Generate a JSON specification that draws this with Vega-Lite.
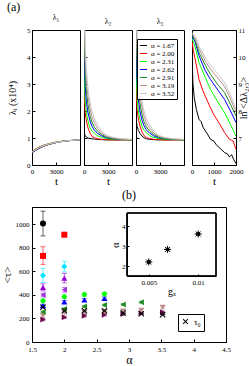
{
 "$schema": "https://vega.github.io/schema/vega-lite/v6.json",
 "padding": {"left": 0, "top": 0, "right": 0, "bottom": 0},
 "config": {
  "font": "Liberation Serif",
  "view": {"stroke": "black", "strokeWidth": 1},
  "title": {"font": "Liberation Serif", "fontWeight": "normal", "fontSize": 12, "color": "black"},
  "axis": {"labelFont": "Liberation Serif", "titleFont": "Liberation Serif", "labelFontSize": 7, "titleFontSize": 11, "titleFontWeight": "normal", "tickSize": -3, "labelPadding": 5, "labelFlush": false, "labelOverlap": false, "domainColor": "black", "tickColor": "black", "labelColor": "black", "titleColor": "black", "grid": false, "titlePadding": 2},
  "legend": {"labelFont": "Liberation Serif", "labelColor": "black"}
 },
 "datasets": {
  "l1": [
   {"a":1.67,"t":0,"v":0.45},{"a":1.67,"t":500,"v":0.55},{"a":1.67,"t":1000,"v":0.63},{"a":1.67,"t":1500,"v":0.70},{"a":1.67,"t":2000,"v":0.75},{"a":1.67,"t":2500,"v":0.79},{"a":1.67,"t":3000,"v":0.83},{"a":1.67,"t":3500,"v":0.86},{"a":1.67,"t":4000,"v":0.88},{"a":1.67,"t":4500,"v":0.90},{"a":1.67,"t":5000,"v":0.91},{"a":1.67,"t":5500,"v":0.92},{"a":1.67,"t":6000,"v":0.93},
   {"a":2,"t":0,"v":0.50},{"a":2,"t":500,"v":0.60},{"a":2,"t":1000,"v":0.68},{"a":2,"t":1500,"v":0.74},{"a":2,"t":2000,"v":0.78},{"a":2,"t":2500,"v":0.82},{"a":2,"t":3000,"v":0.85},{"a":2,"t":3500,"v":0.87},{"a":2,"t":4000,"v":0.89},{"a":2,"t":4500,"v":0.90},{"a":2,"t":5000,"v":0.91},{"a":2,"t":5500,"v":0.92},{"a":2,"t":6000,"v":0.93},
   {"a":2.31,"t":0,"v":0.48},{"a":2.31,"t":500,"v":0.58},{"a":2.31,"t":1000,"v":0.66},{"a":2.31,"t":1500,"v":0.72},{"a":2.31,"t":2000,"v":0.77},{"a":2.31,"t":2500,"v":0.81},{"a":2.31,"t":3000,"v":0.84},{"a":2.31,"t":3500,"v":0.86},{"a":2.31,"t":4000,"v":0.88},{"a":2.31,"t":4500,"v":0.90},{"a":2.31,"t":5000,"v":0.91},{"a":2.31,"t":5500,"v":0.92},{"a":2.31,"t":6000,"v":0.93},
   {"a":2.62,"t":0,"v":0.46},{"a":2.62,"t":500,"v":0.56},{"a":2.62,"t":1000,"v":0.64},{"a":2.62,"t":1500,"v":0.71},{"a":2.62,"t":2000,"v":0.76},{"a":2.62,"t":2500,"v":0.80},{"a":2.62,"t":3000,"v":0.83},{"a":2.62,"t":3500,"v":0.86},{"a":2.62,"t":4000,"v":0.88},{"a":2.62,"t":4500,"v":0.90},{"a":2.62,"t":5000,"v":0.91},{"a":2.62,"t":5500,"v":0.92},{"a":2.62,"t":6000,"v":0.93},
   {"a":2.91,"t":0,"v":0.49},{"a":2.91,"t":500,"v":0.59},{"a":2.91,"t":1000,"v":0.67},{"a":2.91,"t":1500,"v":0.73},{"a":2.91,"t":2000,"v":0.77},{"a":2.91,"t":2500,"v":0.81},{"a":2.91,"t":3000,"v":0.84},{"a":2.91,"t":3500,"v":0.87},{"a":2.91,"t":4000,"v":0.89},{"a":2.91,"t":4500,"v":0.90},{"a":2.91,"t":5000,"v":0.91},{"a":2.91,"t":5500,"v":0.92},{"a":2.91,"t":6000,"v":0.93},
   {"a":3.19,"t":0,"v":0.47},{"a":3.19,"t":500,"v":0.57},{"a":3.19,"t":1000,"v":0.65},{"a":3.19,"t":1500,"v":0.71},{"a":3.19,"t":2000,"v":0.76},{"a":3.19,"t":2500,"v":0.80},{"a":3.19,"t":3000,"v":0.83},{"a":3.19,"t":3500,"v":0.86},{"a":3.19,"t":4000,"v":0.88},{"a":3.19,"t":4500,"v":0.90},{"a":3.19,"t":5000,"v":0.91},{"a":3.19,"t":5500,"v":0.92},{"a":3.19,"t":6000,"v":0.93},
   {"a":3.52,"t":0,"v":0.48},{"a":3.52,"t":500,"v":0.58},{"a":3.52,"t":1000,"v":0.66},{"a":3.52,"t":1500,"v":0.72},{"a":3.52,"t":2000,"v":0.77},{"a":3.52,"t":2500,"v":0.81},{"a":3.52,"t":3000,"v":0.84},{"a":3.52,"t":3500,"v":0.86},{"a":3.52,"t":4000,"v":0.88},{"a":3.52,"t":4500,"v":0.90},{"a":3.52,"t":5000,"v":0.91},{"a":3.52,"t":5500,"v":0.92},{"a":3.52,"t":6000,"v":0.94}
  ],
  "l2": [
   {"a":1.67,"t":0,"v":1.38},{"a":1.67,"t":50,"v":1.18},{"a":1.67,"t":150,"v":1.08},{"a":1.67,"t":300,"v":1.03},{"a":1.67,"t":500,"v":1.00},{"a":1.67,"t":750,"v":0.98},{"a":1.67,"t":1000,"v":0.97},{"a":1.67,"t":1300,"v":0.96},{"a":1.67,"t":1700,"v":0.95},{"a":1.67,"t":2200,"v":0.94},{"a":1.67,"t":2800,"v":0.93},{"a":1.67,"t":3500,"v":0.93},{"a":1.67,"t":4500,"v":0.93},{"a":1.67,"t":6000,"v":0.93},
   {"a":2,"t":0,"v":3.43},{"a":2,"t":50,"v":2.43},{"a":2,"t":150,"v":1.93},{"a":2,"t":300,"v":1.63},{"a":2,"t":500,"v":1.38},{"a":2,"t":750,"v":1.18},{"a":2,"t":1000,"v":1.06},{"a":2,"t":1300,"v":1.01},{"a":2,"t":1700,"v":0.97},{"a":2,"t":2200,"v":0.95},{"a":2,"t":2800,"v":0.94},{"a":2,"t":3500,"v":0.93},{"a":2,"t":4500,"v":0.93},{"a":2,"t":6000,"v":0.93},
   {"a":2.31,"t":0,"v":4.43},{"a":2.31,"t":50,"v":3.13},{"a":2.31,"t":150,"v":2.33},{"a":2.31,"t":300,"v":1.93},{"a":2.31,"t":500,"v":1.63},{"a":2.31,"t":750,"v":1.38},{"a":2.31,"t":1000,"v":1.26},{"a":2.31,"t":1300,"v":1.18},{"a":2.31,"t":1700,"v":1.08},{"a":2.31,"t":2200,"v":1.02},{"a":2.31,"t":2800,"v":0.98},{"a":2.31,"t":3500,"v":0.96},{"a":2.31,"t":4500,"v":0.94},{"a":2.31,"t":6000,"v":0.93},
   {"a":2.62,"t":0,"v":5.43},{"a":2.62,"t":50,"v":3.93},{"a":2.62,"t":150,"v":2.93},{"a":2.62,"t":300,"v":2.33},{"a":2.62,"t":500,"v":1.93},{"a":2.62,"t":750,"v":1.63},{"a":2.62,"t":1000,"v":1.43},{"a":2.62,"t":1300,"v":1.29},{"a":2.62,"t":1700,"v":1.17},{"a":2.62,"t":2200,"v":1.08},{"a":2.62,"t":2800,"v":1.01},{"a":2.62,"t":3500,"v":0.98},{"a":2.62,"t":4500,"v":0.95},{"a":2.62,"t":6000,"v":0.94},
   {"a":2.91,"t":0,"v":6.43},{"a":2.91,"t":50,"v":4.53},{"a":2.91,"t":150,"v":3.43},{"a":2.91,"t":300,"v":2.73},{"a":2.91,"t":500,"v":2.23},{"a":2.91,"t":750,"v":1.83},{"a":2.91,"t":1000,"v":1.58},{"a":2.91,"t":1300,"v":1.40},{"a":2.91,"t":1700,"v":1.25},{"a":2.91,"t":2200,"v":1.13},{"a":2.91,"t":2800,"v":1.03},{"a":2.91,"t":3500,"v":0.98},{"a":2.91,"t":4500,"v":0.95},{"a":2.91,"t":6000,"v":0.94},
   {"a":3.19,"t":0,"v":7.43},{"a":3.19,"t":50,"v":5.23},{"a":3.19,"t":150,"v":3.93},{"a":3.19,"t":300,"v":3.13},{"a":3.19,"t":500,"v":2.53},{"a":3.19,"t":750,"v":2.08},{"a":3.19,"t":1000,"v":1.78},{"a":3.19,"t":1300,"v":1.55},{"a":3.19,"t":1700,"v":1.36},{"a":3.19,"t":2200,"v":1.18},{"a":3.19,"t":2800,"v":1.07},{"a":3.19,"t":3500,"v":1.01},{"a":3.19,"t":4500,"v":0.96},{"a":3.19,"t":6000,"v":0.94},
   {"a":3.52,"t":0,"v":8.43},{"a":3.52,"t":50,"v":5.93},{"a":3.52,"t":150,"v":4.43},{"a":3.52,"t":300,"v":3.53},{"a":3.52,"t":500,"v":2.83},{"a":3.52,"t":750,"v":2.33},{"a":3.52,"t":1000,"v":1.98},{"a":3.52,"t":1300,"v":1.71},{"a":3.52,"t":1700,"v":1.48},{"a":3.52,"t":2200,"v":1.25},{"a":3.52,"t":2800,"v":1.10},{"a":3.52,"t":3500,"v":1.03},{"a":3.52,"t":4500,"v":0.98},{"a":3.52,"t":6000,"v":0.95}
  ],
  "l3": [
   {"a":1.67,"t":0,"v":6.90},{"a":1.67,"t":50,"v":1.60},{"a":1.67,"t":150,"v":1.42},{"a":1.67,"t":300,"v":1.28},{"a":1.67,"t":500,"v":1.17},{"a":1.67,"t":750,"v":1.07},{"a":1.67,"t":1000,"v":1.01},{"a":1.67,"t":1300,"v":0.97},{"a":1.67,"t":1700,"v":0.95},{"a":1.67,"t":2200,"v":0.94},{"a":1.67,"t":2800,"v":0.93},{"a":1.67,"t":3500,"v":0.93},{"a":1.67,"t":4500,"v":0.93},{"a":1.67,"t":6000,"v":0.93},
   {"a":2,"t":0,"v":3.60},{"a":2,"t":50,"v":2.55},{"a":2,"t":150,"v":2.02},{"a":2,"t":300,"v":1.70},{"a":2,"t":500,"v":1.44},{"a":2,"t":750,"v":1.22},{"a":2,"t":1000,"v":1.09},{"a":2,"t":1300,"v":1.02},{"a":2,"t":1700,"v":0.98},{"a":2,"t":2200,"v":0.95},{"a":2,"t":2800,"v":0.94},{"a":2,"t":3500,"v":0.93},{"a":2,"t":4500,"v":0.93},{"a":2,"t":6000,"v":0.93},
   {"a":2.31,"t":0,"v":4.60},{"a":2.31,"t":50,"v":3.25},{"a":2.31,"t":150,"v":2.42},{"a":2.31,"t":300,"v":2.00},{"a":2.31,"t":500,"v":1.68},{"a":2.31,"t":750,"v":1.42},{"a":2.31,"t":1000,"v":1.29},{"a":2.31,"t":1300,"v":1.19},{"a":2.31,"t":1700,"v":1.09},{"a":2.31,"t":2200,"v":1.02},{"a":2.31,"t":2800,"v":0.98},{"a":2.31,"t":3500,"v":0.96},{"a":2.31,"t":4500,"v":0.94},{"a":2.31,"t":6000,"v":0.93},
   {"a":2.62,"t":0,"v":5.60},{"a":2.62,"t":50,"v":4.05},{"a":2.62,"t":150,"v":3.02},{"a":2.62,"t":300,"v":2.40},{"a":2.62,"t":500,"v":1.98},{"a":2.62,"t":750,"v":1.66},{"a":2.62,"t":1000,"v":1.45},{"a":2.62,"t":1300,"v":1.30},{"a":2.62,"t":1700,"v":1.18},{"a":2.62,"t":2200,"v":1.08},{"a":2.62,"t":2800,"v":1.01},{"a":2.62,"t":3500,"v":0.98},{"a":2.62,"t":4500,"v":0.95},{"a":2.62,"t":6000,"v":0.94},
   {"a":2.91,"t":0,"v":6.60},{"a":2.91,"t":50,"v":4.65},{"a":2.91,"t":150,"v":3.52},{"a":2.91,"t":300,"v":2.80},{"a":2.91,"t":500,"v":2.28},{"a":2.91,"t":750,"v":1.86},{"a":2.91,"t":1000,"v":1.60},{"a":2.91,"t":1300,"v":1.41},{"a":2.91,"t":1700,"v":1.26},{"a":2.91,"t":2200,"v":1.13},{"a":2.91,"t":2800,"v":1.03},{"a":2.91,"t":3500,"v":0.98},{"a":2.91,"t":4500,"v":0.95},{"a":2.91,"t":6000,"v":0.94},
   {"a":3.19,"t":0,"v":7.60},{"a":3.19,"t":50,"v":5.35},{"a":3.19,"t":150,"v":4.02},{"a":3.19,"t":300,"v":3.20},{"a":3.19,"t":500,"v":2.58},{"a":3.19,"t":750,"v":2.11},{"a":3.19,"t":1000,"v":1.80},{"a":3.19,"t":1300,"v":1.56},{"a":3.19,"t":1700,"v":1.37},{"a":3.19,"t":2200,"v":1.19},{"a":3.19,"t":2800,"v":1.07},{"a":3.19,"t":3500,"v":1.01},{"a":3.19,"t":4500,"v":0.96},{"a":3.19,"t":6000,"v":0.94},
   {"a":3.52,"t":0,"v":8.60},{"a":3.52,"t":50,"v":6.05},{"a":3.52,"t":150,"v":4.52},{"a":3.52,"t":300,"v":3.60},{"a":3.52,"t":500,"v":2.88},{"a":3.52,"t":750,"v":2.36},{"a":3.52,"t":1000,"v":2.00},{"a":3.52,"t":1300,"v":1.72},{"a":3.52,"t":1700,"v":1.49},{"a":3.52,"t":2200,"v":1.26},{"a":3.52,"t":2800,"v":1.10},{"a":3.52,"t":3500,"v":1.03},{"a":3.52,"t":4500,"v":0.98},{"a":3.52,"t":6000,"v":0.95}
  ],
  "d4": [
   {"a":1.67,"t":0,"v":10.5},{"a":1.67,"t":20,"v":9.6},{"a":1.67,"t":40,"v":9.05},{"a":1.67,"t":100,"v":8.5},{"a":1.67,"t":200,"v":8.05},{"a":1.67,"t":320,"v":7.69},{"a":1.67,"t":420,"v":7.6},{"a":1.67,"t":500,"v":7.4},{"a":1.67,"t":700,"v":7.15},{"a":1.67,"t":840,"v":6.95},{"a":1.67,"t":1000,"v":6.88},{"a":1.67,"t":1100,"v":6.75},{"a":1.67,"t":1300,"v":6.6},{"a":1.67,"t":1480,"v":6.46},{"a":1.67,"t":1600,"v":6.42},{"a":1.67,"t":1700,"v":6.3},{"a":1.67,"t":1800,"v":6.38},{"a":1.67,"t":1900,"v":6.2},{"a":1.67,"t":2000,"v":6.05},
   {"a":2,"t":0,"v":10.6},{"a":2,"t":60,"v":10.25},{"a":2,"t":130,"v":9.97},{"a":2,"t":320,"v":9.17},{"a":2,"t":450,"v":8.85},{"a":2,"t":600,"v":8.55},{"a":2,"t":840,"v":8.12},{"a":2,"t":1000,"v":7.85},{"a":2,"t":1200,"v":7.6},{"a":2,"t":1480,"v":7.2},{"a":2,"t":1700,"v":6.95},{"a":2,"t":1800,"v":6.92},{"a":2,"t":1870,"v":6.89},{"a":2,"t":1950,"v":6.7},{"a":2,"t":2000,"v":6.58},
   {"a":2.31,"t":0,"v":10.7},{"a":2.31,"t":130,"v":10.41},{"a":2.31,"t":320,"v":9.79},{"a":2.31,"t":600,"v":9.25},{"a":2.31,"t":840,"v":8.8},{"a":2.31,"t":1200,"v":8.3},{"a":2.31,"t":1480,"v":7.94},{"a":2.31,"t":1750,"v":7.5},{"a":2.31,"t":2000,"v":7.07},
   {"a":2.62,"t":0,"v":10.75},{"a":2.62,"t":130,"v":10.59},{"a":2.62,"t":320,"v":10.04},{"a":2.62,"t":600,"v":9.5},{"a":2.62,"t":840,"v":9.17},{"a":2.62,"t":1200,"v":8.75},{"a":2.62,"t":1480,"v":8.43},{"a":2.62,"t":1750,"v":8.0},{"a":2.62,"t":2000,"v":7.57},
   {"a":2.91,"t":0,"v":10.8},{"a":2.91,"t":130,"v":10.65},{"a":2.91,"t":320,"v":10.16},{"a":2.91,"t":600,"v":9.7},{"a":2.91,"t":840,"v":9.36},{"a":2.91,"t":1200,"v":8.95},{"a":2.91,"t":1480,"v":8.68},{"a":2.91,"t":1750,"v":8.25},{"a":2.91,"t":2000,"v":7.81},
   {"a":3.19,"t":0,"v":10.85},{"a":3.19,"t":130,"v":10.72},{"a":3.19,"t":320,"v":10.3},{"a":3.19,"t":600,"v":9.85},{"a":3.19,"t":840,"v":9.55},{"a":3.19,"t":1200,"v":9.2},{"a":3.19,"t":1480,"v":8.9},{"a":3.19,"t":1750,"v":8.45},{"a":3.19,"t":2000,"v":7.95},
   {"a":3.52,"t":0,"v":10.9},{"a":3.52,"t":130,"v":10.8},{"a":3.52,"t":320,"v":10.4},{"a":3.52,"t":600,"v":9.98},{"a":3.52,"t":840,"v":9.7},{"a":3.52,"t":1200,"v":9.35},{"a":3.52,"t":1480,"v":9.05},{"a":3.52,"t":1750,"v":8.6},{"a":3.52,"t":2000,"v":8.05}
  ],
  "tau": [
   {"s":"c10","alpha":1.67,"m":190,"lo":180,"hi":200},{"s":"c10","alpha":2.0,"m":209,"lo":199,"hi":219},{"s":"c10","alpha":2.31,"m":223,"lo":213,"hi":233},{"s":"c10","alpha":2.62,"m":231,"lo":221,"hi":241},{"s":"c10","alpha":2.91,"m":238,"lo":228,"hi":248},{"s":"c10","alpha":3.19,"m":243,"lo":233,"hi":253},{"s":"c10","alpha":3.52,"m":252,"lo":242,"hi":262},
   {"s":"c9","alpha":1.67,"m":223,"lo":210,"hi":236},{"s":"c9","alpha":2.0,"m":250,"lo":237,"hi":263},{"s":"c9","alpha":2.31,"m":255,"lo":242,"hi":268},{"s":"c9","alpha":2.62,"m":258,"lo":245,"hi":271},{"s":"c9","alpha":2.91,"m":262,"lo":249,"hi":275},{"s":"c9","alpha":3.19,"m":268,"lo":255,"hi":281},{"s":"c9","alpha":3.52,"m":294,"lo":281,"hi":307},
   {"s":"c8","alpha":1.67,"m":255,"lo":247,"hi":263},{"s":"c8","alpha":2.0,"m":280,"lo":272,"hi":288},{"s":"c8","alpha":2.31,"m":302,"lo":294,"hi":310},{"s":"c8","alpha":2.62,"m":313,"lo":305,"hi":321},{"s":"c8","alpha":2.91,"m":318,"lo":310,"hi":326},{"s":"c8","alpha":3.19,"m":338,"lo":330,"hi":346},
   {"s":"c7","alpha":1.67,"m":308,"lo":296,"hi":320},{"s":"c7","alpha":2.0,"m":341,"lo":329,"hi":353},{"s":"c7","alpha":2.31,"m":356,"lo":344,"hi":368},{"s":"c7","alpha":2.62,"m":370,"lo":358,"hi":382},
   {"s":"c6","alpha":1.67,"m":350,"lo":335,"hi":365},{"s":"c6","alpha":2.0,"m":384,"lo":369,"hi":399},{"s":"c6","alpha":2.31,"m":402,"lo":387,"hi":417},{"s":"c6","alpha":2.62,"m":407,"lo":392,"hi":422},
   {"s":"c5","alpha":1.67,"m":398,"lo":383,"hi":413},{"s":"c5","alpha":2.0,"m":443,"lo":423,"hi":463},
   {"s":"c4","alpha":1.67,"m":463,"lo":433,"hi":493},{"s":"c4","alpha":2.0,"m":542,"lo":502,"hi":582},
   {"s":"c3","alpha":1.67,"m":565,"lo":505,"hi":625},{"s":"c3","alpha":2.0,"m":640,"lo":595,"hi":685},
   {"s":"c2","alpha":1.67,"m":730,"lo":658,"hi":808},{"s":"c2","alpha":2.0,"m":910,"lo":900,"hi":920},
   {"s":"c1","alpha":1.67,"m":1005,"lo":900,"hi":1110},
   {"s":"τ₀","alpha":1.67,"m":294,"lo":294,"hi":294},{"s":"τ₀","alpha":2.0,"m":265,"lo":265,"hi":265},{"s":"τ₀","alpha":2.31,"m":265,"lo":265,"hi":265},{"s":"τ₀","alpha":2.62,"m":265,"lo":265,"hi":265},{"s":"τ₀","alpha":2.91,"m":245,"lo":245,"hi":245},{"s":"τ₀","alpha":3.19,"m":240,"lo":240,"hi":240},{"s":"τ₀","alpha":3.52,"m":232,"lo":232,"hi":232}
  ],
  "inset": [
   {"gx":0.005,"al":2.2},{"gx":0.0069,"al":2.83},{"gx":0.01,"al":3.6}
  ]
 },
 "resolve": {"scale": {"color": "independent", "shape": "independent"}, "legend": {"color": "independent", "shape": "independent"}},
 "spacing": 1,
 "vconcat": [
  {
   "title": {"text": "(a)", "offset": 0},
   "spacing": 4,
   "resolve": {"scale": {"color": "independent"}, "legend": {"color": "independent"}},
   "hconcat": [
    {
     "spacing": 0,
     "resolve": {"scale": {"color": "independent"}, "legend": {"color": "independent"}},
     "hconcat": [
      {
       "title": {"text": "λ₁", "fontSize": 8, "offset": 4, "frame": "group"},
       "width": 48, "height": 135,
       "data": {"name": "l1"},
       "mark": {"type": "line", "strokeWidth": 1, "clip": true},
       "encoding": {
        "x": {"field": "t", "type": "quantitative", "scale": {"domain": [0, 6000], "nice": false}, "axis": {"values": [0, 3000], "format": "d", "title": "t", "titlePadding": 1}},
        "y": {"field": "v", "type": "quantitative", "scale": {"domain": [0, 5], "nice": false}, "axis": {"values": [0, 1, 2, 3, 4, 5], "title": "λᵢ (x10⁴)", "titleFontSize": 10, "titlePadding": 9}},
        "color": {"field": "a", "type": "nominal", "scale": {"domain": [1.67, 2, 2.31, 2.62, 2.91, 3.19, 3.52], "range": ["#000000", "#FF0000", "#00FF00", "#0000FF", "#1E8C1E", "#BC8F8F", "#C8C8C8"]}, "legend": null}
       }
      },
      {
       "title": {"text": "λ₂", "fontSize": 8, "offset": 4, "frame": "group"},
       "width": 48, "height": 135,
       "data": {"name": "l2"},
       "mark": {"type": "line", "strokeWidth": 1, "clip": true},
       "encoding": {
        "x": {"field": "t", "type": "quantitative", "scale": {"domain": [0, 6000], "nice": false}, "axis": {"values": [0, 3000], "format": "d", "title": "t", "titlePadding": 1}},
        "y": {"field": "v", "type": "quantitative", "scale": {"domain": [0, 5], "nice": false}, "axis": {"values": [0, 1, 2, 3, 4, 5], "labels": false, "title": null}},
        "color": {"field": "a", "type": "nominal", "scale": {"domain": [1.67, 2, 2.31, 2.62, 2.91, 3.19, 3.52], "range": ["#000000", "#FF0000", "#00FF00", "#0000FF", "#1E8C1E", "#BC8F8F", "#C8C8C8"]}, "legend": null}
       }
      },
      {
       "title": {"text": "λ₃", "fontSize": 8, "offset": 4, "frame": "group"},
       "width": 48, "height": 135,
       "data": {"name": "l3"},
       "mark": {"type": "line", "strokeWidth": 1, "clip": true},
       "encoding": {
        "x": {"field": "t", "type": "quantitative", "scale": {"domain": [0, 6000], "nice": false}, "axis": {"values": [0, 3000], "format": "d", "title": null}},
        "y": {"field": "v", "type": "quantitative", "scale": {"domain": [0, 5], "nice": false}, "axis": {"values": [0, 1, 2, 3, 4, 5], "labels": false, "title": null}},
        "color": {"field": "a", "type": "nominal", "scale": {"domain": [1.67, 2, 2.31, 2.62, 2.91, 3.19, 3.52], "range": ["#000000", "#FF0000", "#00FF00", "#0000FF", "#1E8C1E", "#BC8F8F", "#C8C8C8"]},
         "legend": {"orient": "none", "legendX": 1, "legendY": 9, "title": null, "symbolType": "stroke", "symbolSize": 50, "symbolStrokeWidth": 1, "labelFontSize": 7, "labelExpr": "'α = ' + format(datum.value, '.2f')", "strokeColor": "black", "fillColor": "white", "padding": 2, "rowPadding": 0, "labelOffset": 3}}
       }
      }
     ]
    },
    {
     "width": 44, "height": 135,
     "data": {"name": "d4"},
     "mark": {"type": "line", "strokeWidth": 1, "clip": true},
     "encoding": {
      "x": {"field": "t", "type": "quantitative", "scale": {"domain": [0, 2000], "nice": false}, "axis": {"values": [0, 1000, 2000], "format": "d", "title": "t", "titlePadding": 1}},
      "y": {"field": "v", "type": "quantitative", "scale": {"domain": [6, 11], "nice": false}, "axis": {"orient": "right", "values": [7, 8, 9, 10, 11], "title": "ln <Δλ₂,₃>", "titleAngle": -90, "titleFontSize": 10, "titlePadding": 3}},
      "color": {"field": "a", "type": "nominal", "scale": {"domain": [1.67, 2, 2.31, 2.62, 2.91, 3.19, 3.52], "range": ["#000000", "#FF0000", "#00FF00", "#0000FF", "#1E8C1E", "#BC8F8F", "#C8C8C8"]}, "legend": null}
     }
    }
   ]
  },
  {
   "title": {"text": "(b)", "offset": 5},
   "width": 194, "height": 135,
   "resolve": {"scale": {"x": "independent", "y": "independent"}},
   "layer": [
    {
     "data": {"name": "tau"},
     "resolve": {"scale": {"shape": "independent"}, "legend": {"shape": "independent"}},
     "encoding": {
      "x": {"field": "alpha", "type": "quantitative", "scale": {"domain": [1.5, 4.5], "nice": false}, "axis": {"values": [1.5, 2, 2.5, 3, 3.5, 4, 4.5], "format": "~g", "labelOverlap": false, "title": "α", "titleFontSize": 12, "titlePadding": 2, "labelPadding": 6}}
     },
     "layer": [
      {
       "mark": {"type": "rule", "strokeWidth": 1, "opacity": 0.6},
       "encoding": {
        "y": {"field": "lo", "type": "quantitative", "scale": {"domain": [0, 1145], "nice": false}, "axis": {"values": [0, 200, 400, 600, 800, 1000], "format": "d", "labelOverlap": false, "labelPadding": 6, "title": "<τ>", "titlePadding": 3}},
        "y2": {"field": "hi"},
        "color": {"field": "s", "type": "nominal", "scale": {"domain": ["c1","c2","c3","c4","c5","c6","c7","c8","c9","c10","τ₀"], "range": ["#000000","#FF0000","#00E5FF","#9400D3","#A030E0","#00FF00","#0000FF","#228B22","#BC8F8F","#670748","#000000"]}, "legend": null}
       }
      },
      {
       "mark": {"type": "tick", "orient": "horizontal", "size": 5, "thickness": 1, "opacity": 0.6},
       "encoding": {
        "y": {"field": "hi", "type": "quantitative", "axis": {"values": [0, 200, 400, 600, 800, 1000], "format": "d", "labelOverlap": false, "labelPadding": 6, "title": "<τ>", "titlePadding": 3}},
        "color": {"field": "s", "type": "nominal", "legend": null}
       }
      },
      {
       "mark": {"type": "tick", "orient": "horizontal", "size": 5, "thickness": 1, "opacity": 0.6},
       "encoding": {
        "y": {"field": "lo", "type": "quantitative", "axis": {"values": [0, 200, 400, 600, 800, 1000], "format": "d", "labelOverlap": false, "labelPadding": 6, "title": "<τ>", "titlePadding": 3}},
        "color": {"field": "s", "type": "nominal", "legend": null}
       }
      },
      {
       "transform": [{"filter": "datum.s !== 'τ₀'"}],
       "mark": {"type": "point", "filled": true, "size": 36, "opacity": 1},
       "encoding": {
        "y": {"field": "m", "type": "quantitative", "axis": {"values": [0, 200, 400, 600, 800, 1000], "format": "d", "labelOverlap": false, "labelPadding": 6, "title": "<τ>", "titlePadding": 3}},
        "color": {"field": "s", "type": "nominal", "legend": null},
        "shape": {"field": "s", "type": "nominal", "scale": {"domain": ["c1","c2","c3","c4","c5","c6","c7","c8","c9","c10"], "range": ["circle","square","diamond","triangle-up","triangle-left","diamond","triangle-up","triangle-left","triangle-down","triangle-right"]}, "legend": null}
       }
      },
      {
       "transform": [{"filter": "datum.s === 'τ₀'"}],
       "mark": {"type": "point", "filled": true, "size": 36, "opacity": 1, "color": "black"},
       "encoding": {
        "y": {"field": "m", "type": "quantitative", "axis": {"values": [0, 200, 400, 600, 800, 1000], "format": "d", "labelOverlap": false, "labelPadding": 6, "title": "<τ>", "titlePadding": 3}},
        "shape": {"field": "s", "type": "nominal", "scale": {"domain": ["τ₀"], "range": ["M-1,-0.75L-0.75,-1L0,-0.25L0.75,-1L1,-0.75L0.25,0L1,0.75L0.75,1L0,0.25L-0.75,1L-1,0.75L-0.25,0Z"]},
         "legend": {"orient": "none", "legendX": 146, "legendY": 107, "title": null, "strokeColor": "black", "fillColor": "white", "padding": 3, "labelFontSize": 9, "symbolFillColor": "black", "symbolStrokeColor": "black", "symbolSize": 30, "labelOffset": 4}}
       }
      }
     ]
    },
    {
     "data": {"name": "inset"},
     "layer": [
      {
       "mark": {"type": "rect", "fill": null, "filled": false, "stroke": "black", "strokeWidth": 1},
       "encoding": {
        "x": {"datum": 0.0028, "type": "quantitative", "scale": {"domain": [0.0028, 0.0118], "range": [95, 184], "nice": false, "zero": false},
         "axis": {"orient": "bottom", "offset": -66, "values": [0.005, 0.01], "format": "~g", "title": "gₓ", "titleFontSize": 10, "titlePadding": 1, "tickSize": -2, "labelPadding": 4}},
        "x2": {"datum": 0.0118},
        "y": {"datum": 1.5, "type": "quantitative", "scale": {"domain": [1.5, 4.65], "range": [69, 6], "nice": false, "zero": false},
         "axis": {"orient": "left", "offset": -95, "values": [2, 3, 4], "title": "α", "titleFontSize": 10, "titlePadding": 1, "tickSize": -2, "labelPadding": 4}},
        "y2": {"datum": 4.65}
       }
      },
      {
       "mark": {"type": "point", "filled": true, "size": 16, "color": "black", "opacity": 1},
       "encoding": {
        "x": {"field": "gx", "type": "quantitative"},
        "y": {"field": "al", "type": "quantitative"}
       }
      },
      {
       "mark": {"type": "point", "filled": false, "size": 50, "color": "black", "strokeWidth": 1, "opacity": 1, "shape": "M-1,0L1,0M0,-1L0,1M-0.7,-0.7L0.7,0.7M-0.7,0.7L0.7,-0.7"},
       "encoding": {
        "x": {"field": "gx", "type": "quantitative"},
        "y": {"field": "al", "type": "quantitative"}
       }
      }
     ]
    }
   ]
  }
 ]
}
